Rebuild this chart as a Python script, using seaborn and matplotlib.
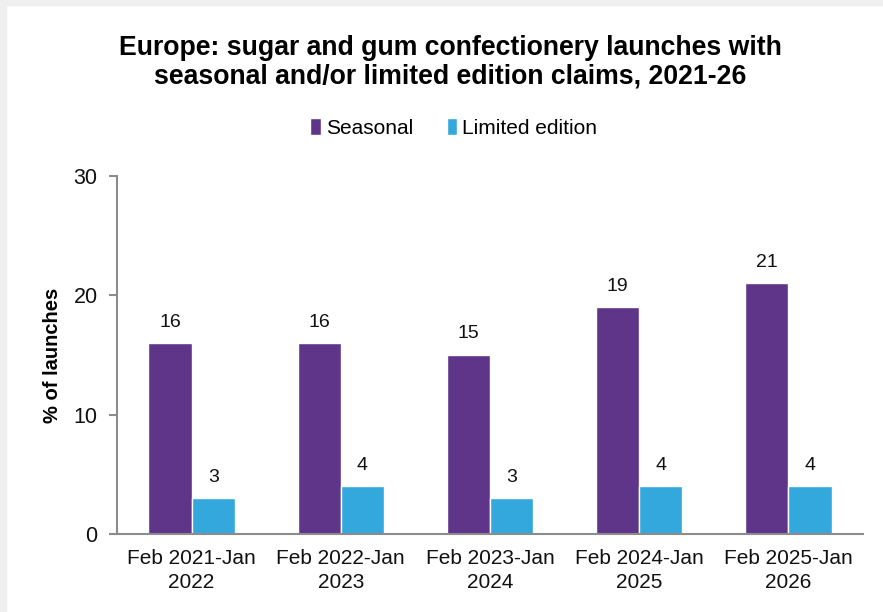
import matplotlib
matplotlib.use("Agg")
import matplotlib.pyplot as plt
from matplotlib.patches import Patch
import seaborn as sns
import pandas as pd

# Data
periods = ["Feb 2021-Jan\n2022", "Feb 2022-Jan\n2023", "Feb 2023-Jan\n2024",
           "Feb 2024-Jan\n2025", "Feb 2025-Jan\n2026"]
seasonal = [16, 16, 15, 19, 21]
limited_edition = [3, 4, 3, 4, 4]
series_names = ["Seasonal", "Limited edition"]
colors = ["#5f3589", "#33a8dd"]
y_ticks = [0, 10, 20, 30]

df = pd.DataFrame({
    "period": periods * 2,
    "value": seasonal + limited_edition,
    "series": [series_names[0]] * len(periods) + [series_names[1]] * len(periods),
})

sns.set_theme(style="white")
plt.rcParams["font.family"] = ["Liberation Sans", "DejaVu Sans"]
plt.rcParams["text.color"] = "black"
plt.rcParams["axes.labelcolor"] = "black"

fig = plt.figure(figsize=(8.83, 6.12), dpi=100)
ax = fig.add_axes([0.1325, 0.1275, 0.8448, 0.585])

# thin grey frame along the top and left edges of the canvas
fig.patches.append(plt.Rectangle((0, 0), 0.007, 1, transform=fig.transFigure,
                                 color="#efefef", zorder=0))
fig.patches.append(plt.Rectangle((0, 0.992), 1, 0.008, transform=fig.transFigure,
                                 color="#efefef", zorder=0))

sns.barplot(data=df, x="period", y="value", hue="series", palette=colors,
            width=0.58, saturation=1, ax=ax, legend=False)

for container in ax.containers:
    ax.bar_label(container, fmt="%g", padding=9, fontsize=14, color="#111111")

ax.set_xlim(-0.5, len(periods) - 0.5)
ax.set_ylim(0, 30)
ax.set_yticks(y_ticks)
ax.set_ylabel("% of launches", fontsize=14.5, fontweight="bold", labelpad=8)
ax.set_xlabel("")

# category separator ticks on the x axis
ax.set_xticks([i for i in range(len(periods))])
ax.set_xticklabels(periods, fontsize=15, color="#111111", linespacing=1.3)
ax.tick_params(axis="x", length=0, pad=11)
ax.set_xticks([i - 0.5 for i in range(len(periods) + 1)], minor=True)
ax.tick_params(axis="x", which="minor", length=6, color="#8c8c8c", width=1.5, direction="out")
ax.tick_params(axis="y", length=6, color="#8c8c8c", width=1.5, labelsize=15.5,
               labelcolor="#111111", pad=8, left=True)

for side in ["top", "right"]:
    ax.spines[side].set_visible(False)
for side in ["left", "bottom"]:
    ax.spines[side].set_color("#8c8c8c")
    ax.spines[side].set_linewidth(1.5)

# legend
handles = [Patch(facecolor=c, label=n) for c, n in zip(colors, series_names)]
fig.legend(handles=handles, loc="center", bbox_to_anchor=(0.514, 0.791), ncol=2,
           frameon=False, fontsize=15, handlelength=0.5, handleheight=0.85,
           handletextpad=0.25, columnspacing=1.6)

fig.text(0.5096, 0.898,
         "Europe: sugar and gum confectionery launches with\nseasonal and/or limited edition claims, 2021-26",
         ha="center", va="center", fontsize=19.2, fontweight="bold", linespacing=1.15)

fig.savefig("out.png", dpi=100, facecolor="white")
